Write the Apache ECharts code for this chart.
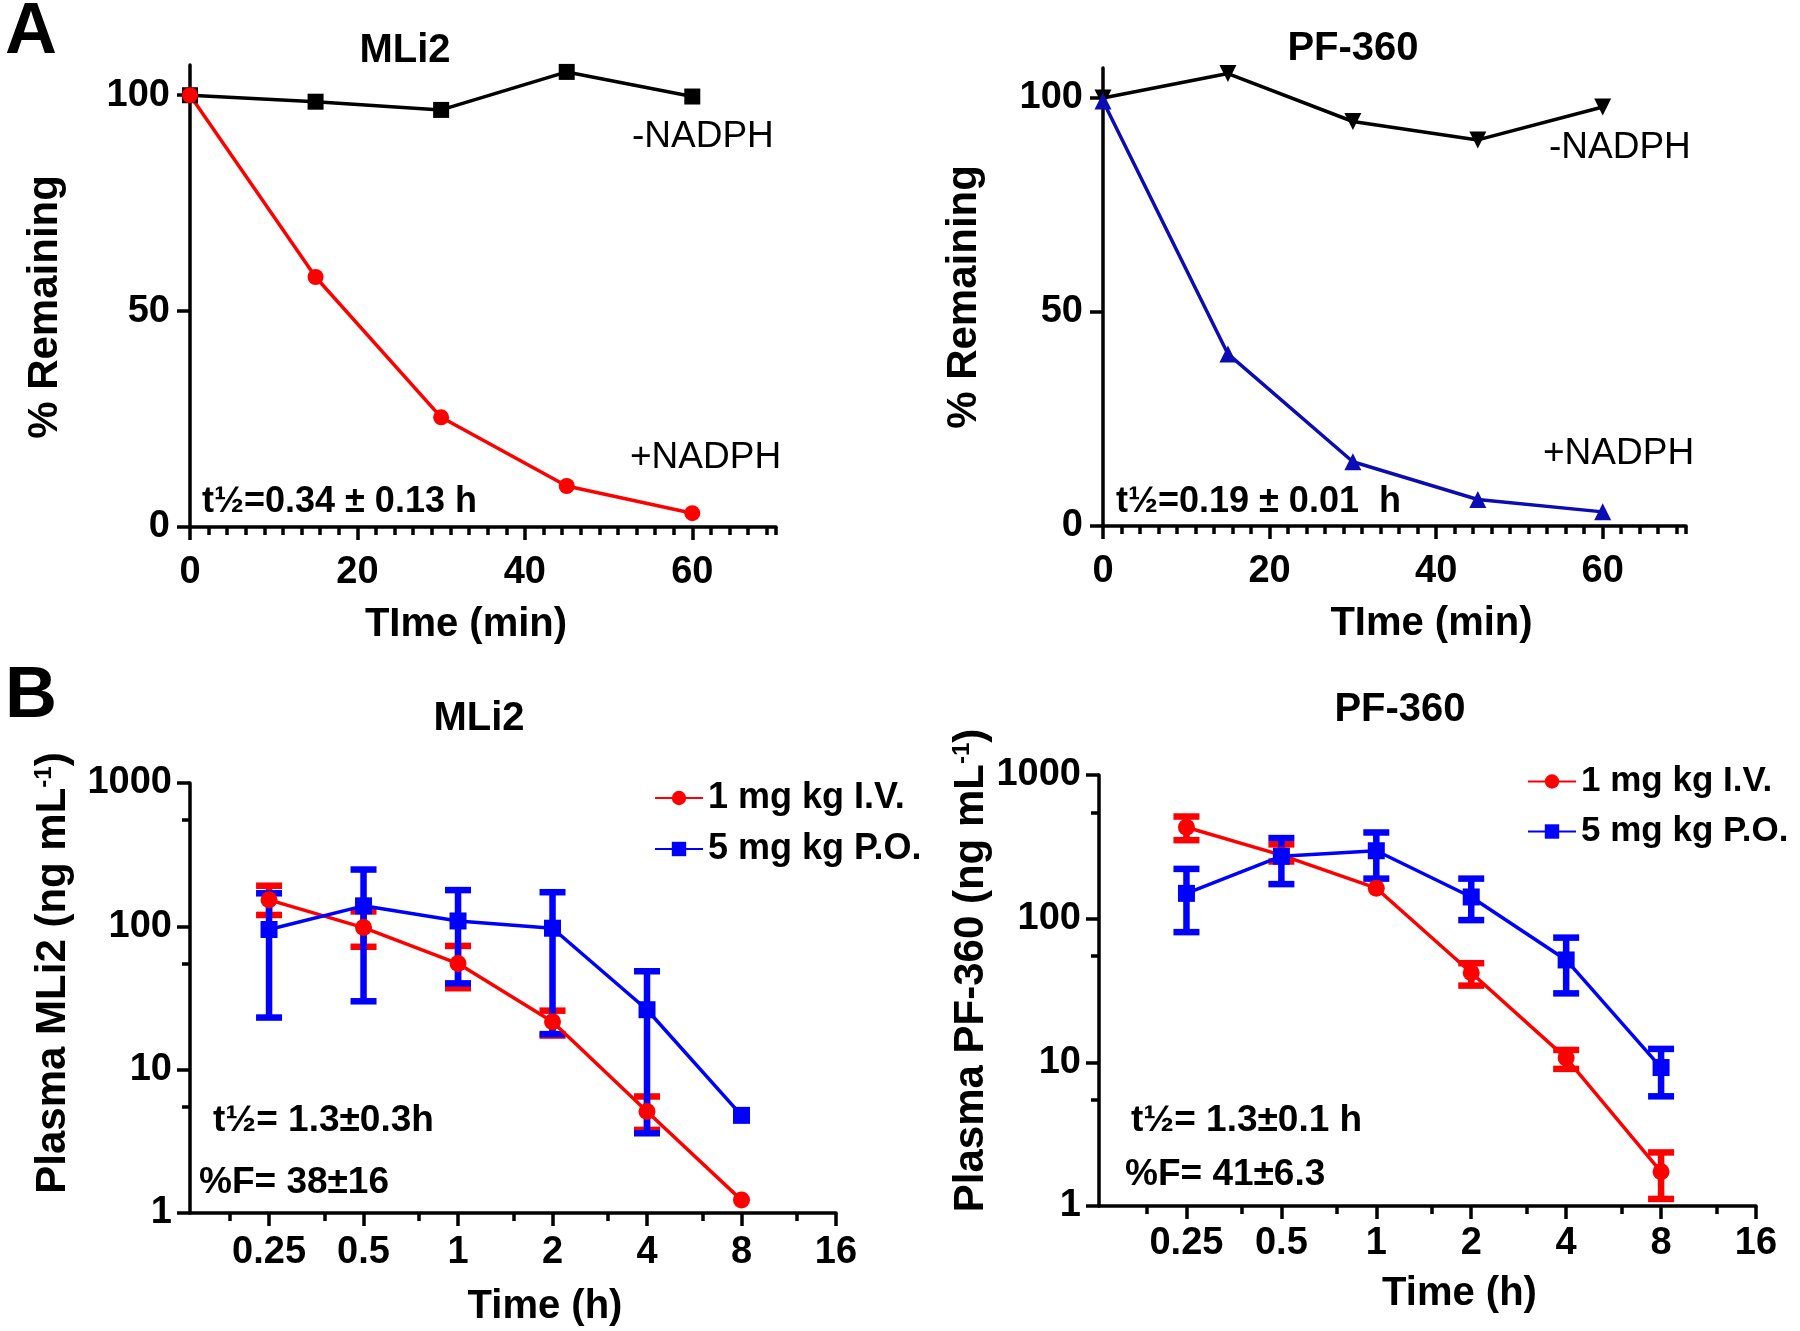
<!DOCTYPE html>
<html>
<head>
<meta charset="utf-8">
<script src="https://cdn.jsdelivr.net/npm/echarts@6/dist/echarts.min.js"></script>
<style>
  html, body { margin: 0; padding: 0; background: #fff; }
  #chart { width: 1800px; height: 1331px; }
</style>
</head>
<body>
<div id="chart"></div>
<script>
// ---- panel A: % remaining vs time (min)
const timeMin = [0, 15, 30, 45, 60];
const mli2Minus = [100, 98.5, 96.6, 105.4, 99.7];
const mli2Plus = [100, 57.9, 25.4, 9.5, 3.2];
const pfMinus = [100, 105.7, 94.5, 90.2, 97.9];
const pfPlus = [99.3, 40.2, 15.0, 6.2, 3.3];
const minTicks = [0, 20, 40, 60];
const pctTicks = [0, 50, 100];

// ---- panel B: plasma concentration vs time (h)
const timeH = [0.25, 0.5, 1, 2, 4, 8];
const mli2IV = [153, 98, 55, 21.6, 5.1, 1.23];
const mli2IVLow = [120, 72, 37, 17.3, 3.8, null];
const mli2IVHigh = [192, 127, 73, 25.8, 6.5, null];
const mli2PO = [95, 139, 109, 97, 26.2, 4.8];
const mli2POLow = [23.1, 30, 40, 17.7, 3.6, null];
const mli2POHigh = [170, 249, 179, 173, 48.6, null];
const pfIV = [433, 277, 163, 42, 10.7, 1.73];
const pfIVLow = [352, 250, null, 34.2, 9.0, 1.12];
const pfIVHigh = [514, 329, null, 49, 12.2, 2.36];
const pfPO = [150, 272, 297, 141.6, 51.6, 9.2];
const pfPOLow = [80.6, 174, 190, 97.7, 30.2, 5.8];
const pfPOHigh = [222, 364, 398, 190, 73.8, 12.4];
const hourTicks = [0.25, 0.5, 1, 2, 4, 8, 16];

const IV = '1 mg kg I.V.';
const PO = '5 mg kg P.O.';

const FONT = '"Liberation Sans", Arial, sans-serif';
const RED = '#ff0000', BLUE = '#0000ff', NAVY = '#0c0cb4', BLACK = '#000000';
const AX = { color: BLACK, width: 3.5 };

const pairs = (xs, ys) => xs.map((x, i) => [x, ys[i]]);
const errData = (xs, lo, hi) => xs.map((x, i) => [x, lo[i], hi[i]]).filter(d => d[1] != null);

const bold = (size) => ({ fontFamily: FONT, fontSize: size, fontWeight: 'bold', color: BLACK });

function minuteAxis(grid, pad) {
  return {
    gridIndex: grid, type: 'value', min: 0, max: 70, interval: 20, position: 'bottom',
    name: 'TIme (min)', nameLocation: 'middle', nameGap: 78,
    nameTextStyle: Object.assign({ padding: pad }, bold(40)),
    axisLine: { show: true, onZero: false, lineStyle: AX },
    axisTick: { show: true, length: 13, customValues: minTicks, lineStyle: AX },
    axisLabel: Object.assign({ customValues: minTicks, margin: 27 }, bold(38)),
    splitLine: { show: false }
  };
}
// second axis only for the fine tick marks
function minuteMinor(grid) {
  return {
    gridIndex: grid, type: 'value', min: 0, max: 70, interval: 20 / 9, position: 'bottom',
    axisLine: { show: false, onZero: false }, axisLabel: { show: false },
    axisTick: { show: true, length: 8, lineStyle: AX }, splitLine: { show: false }
  };
}
function pctAxis(grid, gap, pad) {
  return {
    gridIndex: grid, type: 'value', min: 0, max: 107, interval: 50,
    name: '% Remaining', nameLocation: 'middle', nameGap: gap, nameRotate: 90,
    nameTextStyle: Object.assign({ padding: pad }, bold(42)),
    axisLine: { show: true, onZero: false, lineStyle: AX },
    axisTick: { show: true, length: 13, customValues: pctTicks, lineStyle: AX },
    axisLabel: Object.assign({ customValues: pctTicks, margin: 20 }, bold(38)),
    splitLine: { show: false }
  };
}
function hourAxis(grid, min, nameGap, margin) {
  return {
    gridIndex: grid, type: 'log', logBase: 2, min: min, max: 16, position: 'bottom',
    name: 'Time (h)', nameLocation: 'middle', nameGap: nameGap,
    nameTextStyle: Object.assign({ padding: [0, 0, 0, 64] }, bold(40)),
    axisLine: { show: true, onZero: false, lineStyle: AX },
    axisTick: { show: true, length: 13, customValues: hourTicks, lineStyle: AX },
    minorTick: { show: true, splitNumber: 2, length: 8, lineStyle: AX },
    axisLabel: Object.assign({ customValues: hourTicks, margin: margin,
      formatter: v => hourTicks.indexOf(+v) >= 0 ? String(+v) : '' }, bold(38)),
    splitLine: { show: false }, minorSplitLine: { show: false }
  };
}
function concAxis(grid, drug, nameGap, shift) {
  return {
    gridIndex: grid, type: 'log', logBase: 10, min: 1, max: 1000,
    name: '{a|Plasma ' + drug + ' (ng mL}{s|-1}{a|)}', nameLocation: 'middle', nameGap: nameGap, nameRotate: 90,
    nameTextStyle: {
      padding: [0, 0, 0, shift],
      rich: { a: bold(42), s: { fontFamily: FONT, fontSize: 24, fontWeight: 'bold', color: BLACK, verticalAlign: 'top' } }
    },
    axisLine: { show: true, onZero: false, lineStyle: AX },
    axisTick: { show: true, length: 13, lineStyle: AX },
    minorTick: { show: true, splitNumber: 2, length: 8, lineStyle: AX },
    axisLabel: Object.assign({ margin: 18, formatter: v => String(Math.round(v)) }, bold(38)),
    splitLine: { show: false }, minorSplitLine: { show: false }
  };
}

function lineSeries(name, xi, yi, data, color, symbol, size, extra) {
  return Object.assign({
    name: name, type: 'line', xAxisIndex: xi, yAxisIndex: yi, data: data,
    symbol: symbol, symbolSize: size, showSymbol: true, clip: false,
    lineStyle: { color: color, width: 3.5 }, itemStyle: { color: color }
  }, extra || {});
}

function errSeries(xi, yi, data, color) {
  return {
    type: 'custom', xAxisIndex: xi, yAxisIndex: yi, data: data, clip: false, silent: true,
    encode: { x: 0, y: [1, 2] },
    renderItem: function (params, api) {
      const x = api.value(0);
      const top = api.coord([x, api.value(2)]);
      const bot = api.coord([x, api.value(1)]);
      const st = { stroke: color, lineWidth: 6.5 };
      const cap = 13;
      return {
        type: 'group', children: [
          { type: 'line', shape: { x1: top[0], y1: top[1], x2: bot[0], y2: bot[1] }, style: st },
          { type: 'line', shape: { x1: top[0] - cap, y1: top[1], x2: top[0] + cap, y2: top[1] }, style: st },
          { type: 'line', shape: { x1: bot[0] - cap, y1: bot[1], x2: bot[0] + cap, y2: bot[1] }, style: st }
        ]
      };
    }
  };
}

function txt(text, x, y, size, weight, align) {
  return {
    type: 'text', x: x, y: y, silent: true,
    style: { text: text, fontFamily: FONT, fontSize: size, fontWeight: weight || 'bold',
      fill: BLACK, align: align || 'left', verticalAlign: 'middle' }
  };
}

function bLegend(left, top, size) {
  return {
    data: [IV, PO], orient: 'vertical', left: left, top: top, selectedMode: false,
    itemWidth: 48, itemHeight: 18, itemGap: 15,
    textStyle: bold(size)
  };
}

const option = {
  animation: false,
  backgroundColor: '#ffffff',
  textStyle: { fontFamily: FONT },
  grid: [
    { left: 190, top: 65, width: 586, height: 462 },
    { left: 1103, top: 68, width: 583, height: 458 },
    { left: 190, top: 783, width: 646, height: 430 },
    { left: 1099, top: 775, width: 657, height: 431 }
  ],
  xAxis: [
    minuteAxis(0, [0, 34, 0, 0]), minuteMinor(0),
    minuteAxis(1, [0, 0, 0, 74]), minuteMinor(1),
    hourAxis(2, 0.14, 74, 21),
    hourAxis(3, 0.132, 68, 19)
  ],
  yAxis: [
    pctAxis(0, 124, [0, 22, 0, 0]),
    pctAxis(1, 118, [0, 0, 0, 0]),
    concAxis(2, 'MLi2', 116, 50),
    concAxis(3, 'PF-360', 101, 40)
  ],
  legend: [bLegend(649, 775, 36), bLegend(1522, 759, 35)],
  series: [
    lineSeries('-NADPH', 0, 0, pairs(timeMin, mli2Minus), BLACK, 'rect', 16),
    lineSeries('+NADPH', 0, 0, pairs(timeMin, mli2Plus), RED, 'circle', 16),
    lineSeries('-NADPH', 2, 1, pairs(timeMin, pfMinus), BLACK, 'triangle', 17, { symbolRotate: 180 }),
    lineSeries('+NADPH', 2, 1, pairs(timeMin, pfPlus), NAVY, 'triangle', 17),

    errSeries(4, 2, errData(timeH, mli2IVLow, mli2IVHigh), RED),
    lineSeries(IV, 4, 2, pairs(timeH, mli2IV), RED, 'circle', 17),
    errSeries(4, 2, errData(timeH, mli2POLow, mli2POHigh), BLUE),
    lineSeries(PO, 4, 2, pairs(timeH, mli2PO), BLUE, 'rect', 17),

    errSeries(5, 3, errData(timeH, pfIVLow, pfIVHigh), RED),
    lineSeries(IV, 5, 3, pairs(timeH, pfIV), RED, 'circle', 17),
    errSeries(5, 3, errData(timeH, pfPOLow, pfPOHigh), BLUE),
    lineSeries(PO, 5, 3, pairs(timeH, pfPO), BLUE, 'rect', 17)
  ],
  graphic: [
    txt('A', 31, 33, 72, 'bold', 'center'),
    txt('B', 31, 697, 72, 'bold', 'center'),
    txt('MLi2', 405, 51, 40, 'bold', 'center'),
    txt('PF-360', 1353, 49, 40, 'bold', 'center'),
    txt('MLi2', 479, 719, 40, 'bold', 'center'),
    txt('PF-360', 1400, 710, 40, 'bold', 'center'),
    txt('-NADPH', 632, 137, 37, 'normal'),
    txt('+NADPH', 630, 458, 37, 'normal'),
    txt('-NADPH', 1549, 148, 37, 'normal'),
    txt('+NADPH', 1543, 454, 37, 'normal'),
    txt('t½=0.34 ± 0.13 h', 202, 502, 36),
    txt('t½=0.19 ± 0.01  h', 1116, 502, 36),
    txt('t½= 1.3±0.3h', 213, 1121, 37),
    txt('%F= 38±16', 199, 1183, 37),
    txt('t½= 1.3±0.1 h', 1131, 1121, 37),
    txt('%F= 41±6.3', 1125, 1175, 37)
  ]
};

const chart = echarts.init(document.getElementById('chart'), null, { renderer: 'canvas' });
chart.setOption(option);
</script>
</body>
</html>
